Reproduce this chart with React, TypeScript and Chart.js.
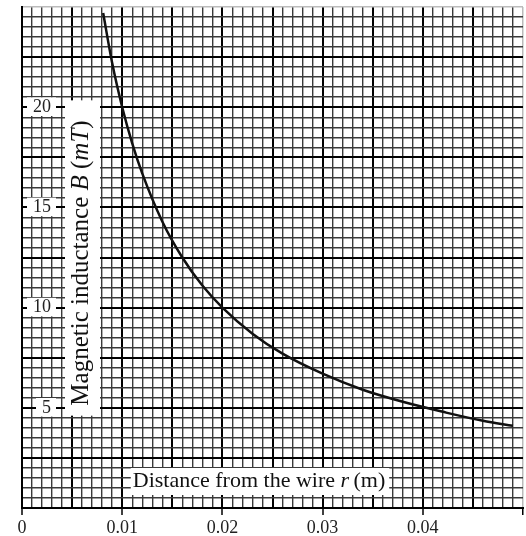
import React, { useEffect, useRef } from 'react';
import { Chart, registerables } from 'chart.js';

Chart.register(...registerables);

// Curve: distance r (m) -> B (mT)
const rValues = [0.0081, 0.009, 0.01, 0.011, 0.012, 0.014, 0.016, 0.018, 0.02, 0.023, 0.026, 0.03, 0.034, 0.038, 0.042, 0.046, 0.049];
const bValues = [24.7, 22.2, 20, 18.2, 16.7, 14.3, 12.5, 11.1, 10, 8.7, 7.7, 6.7, 5.9, 5.3, 4.8, 4.35, 4.1];

const xTickLabels = ['0', '0.01', '0.02', '0.03', '0.04'];
const yTickLabels = ['5', '10', '15', '20'];

const X_MAX = 0.05;
const Y_MAX = 25;
const X_MINOR = 0.001;
const Y_MINOR = 0.5;

const xTitleParts = [
  { text: 'Distance from the wire ', italic: false },
  { text: 'r', italic: true },
  { text: '\u2009(m)', italic: false },
];
const yTitleParts = [
  { text: 'Magnetic inductance ', italic: false },
  { text: 'B', italic: true },
  { text: ' (', italic: false },
  { text: 'mT', italic: true },
  { text: ')', italic: false },
];

const SERIF = "'Liberation Serif', 'Times New Roman', serif";

type Part = { text: string; italic: boolean };

function drawParts(ctx: CanvasRenderingContext2D, parts: Part[], size: number, x: number, y: number) {
  let cx = x;
  for (const p of parts) {
    ctx.font = `${p.italic ? 'italic ' : ''}${size}px ${SERIF}`;
    ctx.fillText(p.text, cx, y);
    cx += ctx.measureText(p.text).width;
  }
}
function measureParts(ctx: CanvasRenderingContext2D, parts: Part[], size: number) {
  let w = 0;
  for (const p of parts) {
    ctx.font = `${p.italic ? 'italic ' : ''}${size}px ${SERIF}`;
    w += ctx.measureText(p.text).width;
  }
  return w;
}

const titlePlugin = {
  id: 'insideTitles',
  beforeDatasetsDraw(chart: any) {
    const { ctx, chartArea: a } = chart;
    ctx.save();
    ctx.textBaseline = 'alphabetic';
    ctx.textAlign = 'left';
    const fx = 22;
    const wx = measureParts(ctx, xTitleParts, fx);
    const cxx = a.left + 237;
    const by = a.bottom - 21;
    ctx.fillStyle = '#ffffff';
    ctx.fillRect(cxx - wx / 2 - 2, by - 19, wx + 6, 27);
    ctx.fillStyle = '#111111';
    drawParts(ctx, xTitleParts, fx, cxx - wx / 2, by);

    const fy = 25;
    const wy = measureParts(ctx, yTitleParts, fy);
    const cy = a.top + 256;
    const bx = a.left + 66;
    ctx.fillStyle = '#ffffff';
    ctx.fillRect(a.left + 43, cy - wy / 2 - 20, 35, wy + 30);
    ctx.translate(bx, cy);
    ctx.rotate(-Math.PI / 2);
    ctx.fillStyle = '#111111';
    drawParts(ctx, yTitleParts, fy, -wy / 2, 0);
    ctx.restore();
  },
};

function gridTicks(max: number, step: number) {
  const n = Math.round(max / step);
  const out: { value: number }[] = [];
  for (let k = 0; k <= n; k++) out.push({ value: k * step });
  return out;
}

export default function App() {
  const ref = useRef<HTMLCanvasElement | null>(null);
  useEffect(() => {
    if (!ref.current) return;
    const data = rValues.map((r, i) => ({ x: r, y: bValues[i] }));
    const chart = new Chart(ref.current, {
      type: 'line',
      data: {
        datasets: [
          {
            data,
            borderColor: '#111111',
            borderWidth: 2.5,
            pointRadius: 0,
            cubicInterpolationMode: 'monotone',
            fill: false,
          },
        ],
      },
      options: {
        animation: false,
        responsive: false,
        maintainAspectRatio: false,
        layout: { padding: { left: 22, right: 3, top: 7, bottom: 0 } },
        plugins: { legend: { display: false }, tooltip: { enabled: false } },
        scales: {
          x: {
            type: 'linear',
            min: 0,
            max: X_MAX,
            afterBuildTicks: (s: any) => {
              s.ticks = gridTicks(X_MAX, X_MINOR);
            },
            afterFit: (s: any) => {
              s.height = 28;
              s.paddingLeft = 0;
              s.paddingRight = 0;
            },
            border: { display: true, color: '#000000', width: 2 },
            grid: {
              drawTicks: true,
              tickLength: 7,
              color: (c: any) => {
                const k = Math.round(c.tick.value / X_MINOR);
                if (k === 50) return '#bbbbbb';
                return k % 5 === 0 ? '#000000' : '#3a3a3a';
              },
              lineWidth: (c: any) => {
                const k = Math.round(c.tick.value / X_MINOR);
                if (k === 50) return 1.5;
                return k % 5 === 0 ? 2 : 1.4;
              },
              tickColor: (c: any) => {
                const k = Math.round(c.tick.value / X_MINOR);
                return k % 10 === 0 ? '#000000' : 'rgba(0,0,0,0)';
              },
              tickWidth: 1.5,
            },
            ticks: {
              autoSkip: false,
              maxRotation: 0,
              padding: 2,
              color: '#222222',
              font: { family: SERIF, size: 18 },
              callback: (v: any) => {
                const k = Math.round(Number(v) / X_MINOR);
                if (k % 10 !== 0) return '';
                return xTickLabels[k / 10] ?? '';
              },
            },
          },
          y: {
            type: 'linear',
            min: 0,
            max: Y_MAX,
            afterBuildTicks: (s: any) => {
              s.ticks = gridTicks(Y_MAX, Y_MINOR);
            },
            afterFit: (s: any) => {
              s.width = 0;
              s.paddingTop = 0;
              s.paddingBottom = 0;
            },
            border: { display: true, color: '#000000', width: 2 },
            grid: {
              drawTicks: false,
              color: (c: any) => {
                const k = Math.round(c.tick.value / Y_MINOR);
                if (k === 50) return '#bbbbbb';
                return k % 5 === 0 ? '#000000' : '#3a3a3a';
              },
              lineWidth: (c: any) => {
                const k = Math.round(c.tick.value / Y_MINOR);
                if (k === 50) return 1.5;
                return k % 5 === 0 ? 2 : 1.4;
              },
            },
            ticks: {
              autoSkip: false,
              mirror: true,
              crossAlign: 'far',
              padding: 11,
              color: '#222222',
              font: { family: SERIF, size: 18 },
              showLabelBackdrop: true,
              backdropPadding: { left: 6, right: 5, top: -1, bottom: -2 },
              backdropColor: (c: any) => {
                const k = Math.round(c.tick.value / Y_MINOR);
                return k % 10 === 0 && k > 0 && k < 50 ? '#ffffff' : 'rgba(0,0,0,0)';
              },
              callback: (v: any) => {
                const k = Math.round(Number(v) / Y_MINOR);
                if (k % 10 !== 0) return '';
                return yTickLabels[k / 10 - 1] ?? '';
              },
            },
          },
        },
      },
      plugins: [titlePlugin],
    } as any);
    return () => chart.destroy();
  }, []);

  return (
    <div style={{ position: 'fixed', left: 0, top: 0, width: 526, height: 536, background: '#ffffff', overflow: 'hidden' }}>
      <canvas ref={ref} width={526} height={536} style={{ width: 526, height: 536, display: 'block' }} />
    </div>
  );
}
